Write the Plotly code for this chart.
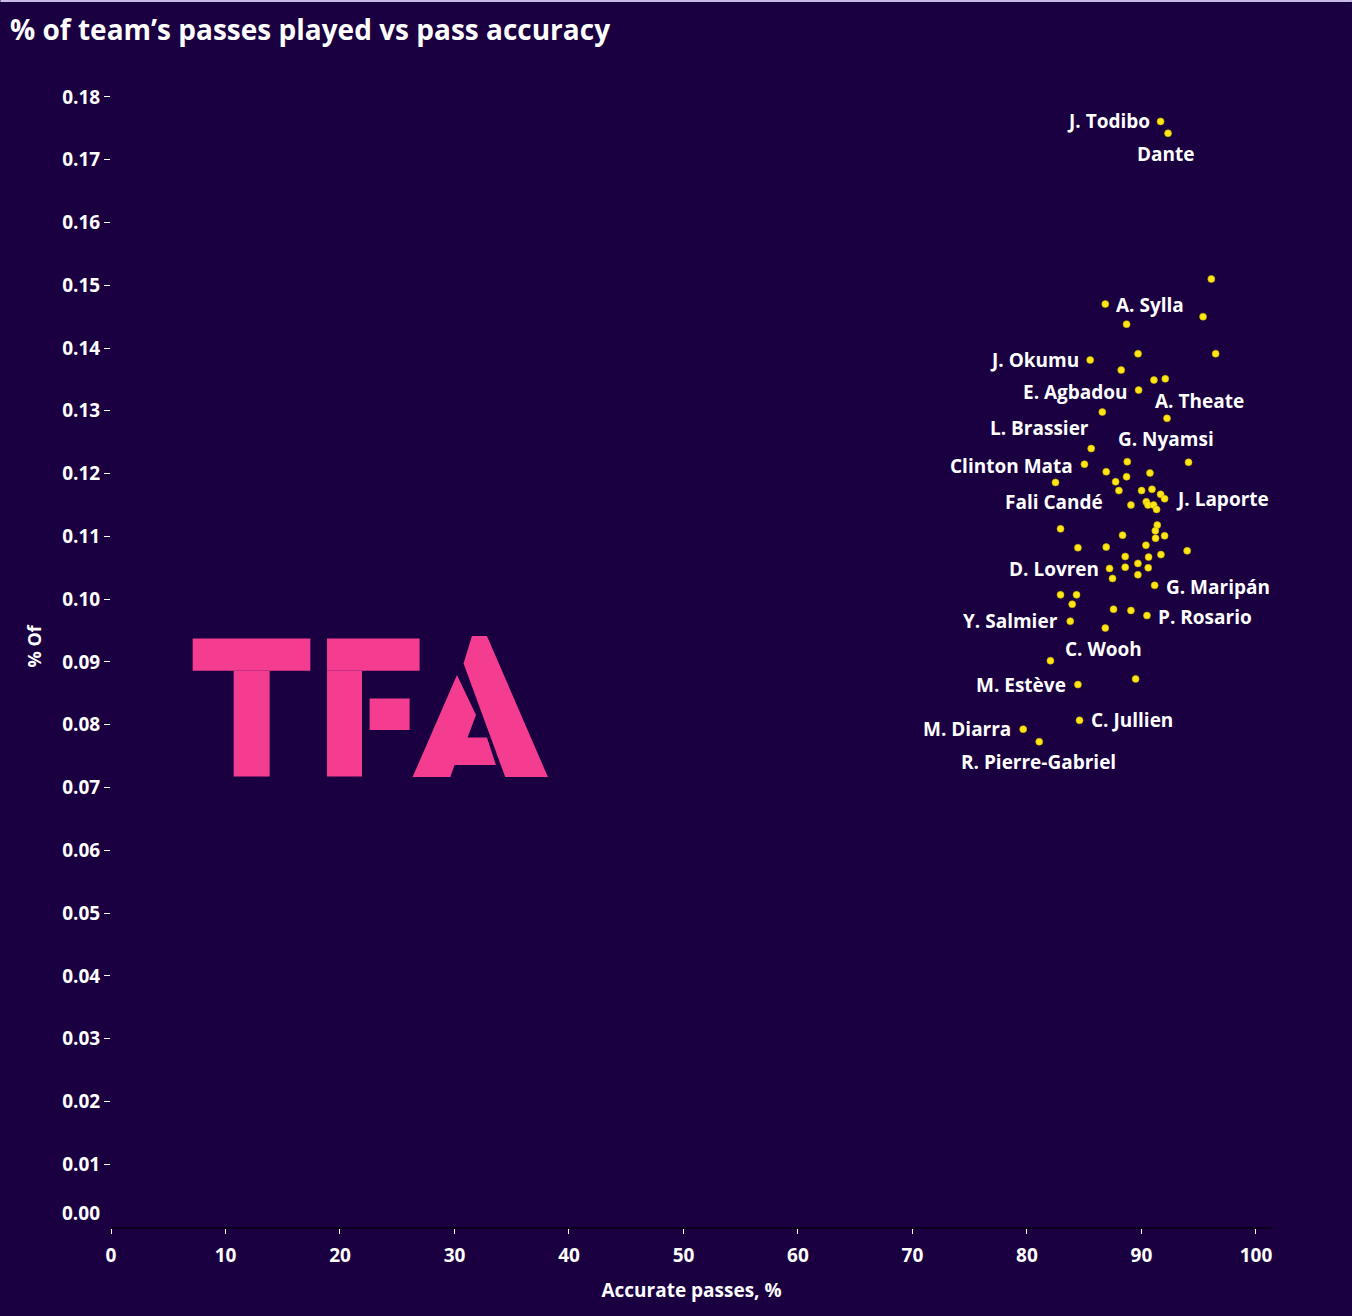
import plotly.graph_objects as go

# ---------------- data ----------------
accurate_pct = [91.67, 92.32, 96.10, 86.84, 95.38, 88.70, 89.70, 96.48, 85.52, 88.23,
                91.09, 92.08, 89.75, 86.58, 92.23, 85.61, 94.11, 88.76, 85.02, 86.92,
                90.74, 88.70, 87.74, 82.49, 88.03, 90.01, 90.92, 91.67, 92.02, 89.08,
                90.42, 90.57, 91.06, 91.32, 82.93, 91.38, 91.21, 92.02, 91.23, 88.35,
                84.45, 86.92, 90.39, 93.99, 91.70, 90.62, 88.58, 89.69, 88.58, 90.59,
                87.21, 87.47, 89.69, 91.15, 82.93, 84.33, 83.95, 87.56, 89.08, 90.48,
                83.78, 86.84, 82.05, 89.49, 84.45, 84.59, 79.67, 81.07]
share_of_passes = [0.1761, 0.1742, 0.1510, 0.1470, 0.1450, 0.1438, 0.1391, 0.1391, 0.1381, 0.1365,
                   0.1349, 0.1351, 0.1333, 0.1298, 0.1288, 0.1240, 0.1218, 0.1219, 0.1215, 0.1203,
                   0.1201, 0.1195, 0.1187, 0.1186, 0.1173, 0.1173, 0.1175, 0.1167, 0.1160, 0.1150,
                   0.1155, 0.1150, 0.1150, 0.1143, 0.1112, 0.1118, 0.1109, 0.1101, 0.1097, 0.1102,
                   0.1082, 0.1083, 0.1086, 0.1077, 0.1071, 0.1067, 0.1068, 0.1057, 0.1051, 0.1050,
                   0.1049, 0.1033, 0.1039, 0.1022, 0.1007, 0.1007, 0.0992, 0.0984, 0.0982, 0.0974,
                   0.0965, 0.0954, 0.0902, 0.0873, 0.0864, 0.0807, 0.0793, 0.0773]
player_names = ["J. Todibo", "Dante", "", "A. Sylla", "", "", "", "", "J. Okumu", "",
                "A. Theate", "", "E. Agbadou", "L. Brassier", "G. Nyamsi", "", "", "", "Clinton Mata", "",
                "", "", "", "Fali Candé", "", "", "", "", "J. Laporte", "",
                "", "", "", "", "", "", "", "", "", "",
                "", "", "", "", "", "", "", "", "", "",
                "D. Lovren", "", "", "G. Maripán", "", "", "", "", "", "P. Rosario",
                "Y. Salmier", "C. Wooh", "", "", "M. Estève", "C. Jullien", "M. Diarra", "R. Pierre-Gabriel"]
x_ticks = [0, 10, 20, 30, 40, 50, 60, 70, 80, 90, 100]
y_ticks = [0.01, 0.02, 0.03, 0.04, 0.05, 0.06, 0.07, 0.08, 0.09, 0.10,
           0.11, 0.12, 0.13, 0.14, 0.15, 0.16, 0.17, 0.18]

# ---------------- style ----------------
BG = "#1a0040"
WHITE = "#ffffff"
YELLOW = "#ffe614"
PINK = "#f43d90"
FONT = "Open Sans"

W, H = 1352, 1316
PL, PR, PT, PB = 110.6, 1272.0, 85.0, 1226.8  # plot area in pixels
X_RANGE = [0, 101.4]
Y_RANGE = [0, 0.1819]

# label placement: name -> (xanchor, xshift, yshift)
label_style = {
    "J. Todibo": ("right", -9, 0),
    "Dante": ("center", -2, -21),
    "A. Sylla": ("left", 9, -1),
    "J. Okumu": ("right", -9, 0),
    "A. Theate": ("left", -1, -21),
    "E. Agbadou": ("right", -9, -2),
    "L. Brassier": ("right", -11, -16),
    "G. Nyamsi": ("center", -1, -21),
    "Clinton Mata": ("right", -9, -2),
    "Fali Candé": ("center", -1, -20),
    "J. Laporte": ("left", 9, 0),
    "D. Lovren": ("right", -9, -1),
    "G. Maripán": ("left", 9, -2),
    "P. Rosario": ("left", 9, -1),
    "Y. Salmier": ("right", -10, 0),
    "C. Wooh": ("center", -2, -21),
    "M. Estève": ("right", -10, 0),
    "C. Jullien": ("left", 9, 0),
    "M. Diarra": ("right", -10, 0),
    "R. Pierre-Gabriel": ("center", -1, -20),
}

fig = go.Figure()
fig.add_trace(go.Scatter(
    x=accurate_pct, y=share_of_passes, mode="markers",
    marker=dict(size=7, color=YELLOW, line=dict(width=0.6, color="#c9b000")),
    text=player_names, hoverinfo="x+y+text", showlegend=False,
))

annotations = []
for xv, yv, name in zip(accurate_pct, share_of_passes, player_names):
    if not name:
        continue
    xa, xs, ys = label_style[name]
    annotations.append(dict(
        x=xv, y=yv, xref="x", yref="y", text=name, showarrow=False,
        xanchor=xa, yanchor="middle", xshift=xs, yshift=ys,
        font=dict(family=FONT, size=19, color=WHITE, weight="bold"),
    ))

# 0.00 label (drawn slightly above the baseline as in the original)
annotations.append(dict(
    x=0, y=0, xref="paper", yref="y", text="0.00", showarrow=False,
    xanchor="right", yanchor="middle", xshift=-9, yshift=14,
    font=dict(family=FONT, size=19, color=WHITE, weight="bold"),
))

# y-axis title
annotations.append(dict(
    x=0, y=0.5, xref="paper", yref="paper", text="% Of", showarrow=False,
    textangle=-90, xanchor="center", yanchor="middle", xshift=-(PL - 34), yshift=10,
    font=dict(family=FONT, size=18, color=WHITE, weight="bold"),
))


def px2paper(px, py):
    return (px - PL) / (PR - PL), (PB - py) / (PB - PT)


def poly(points):
    pts = [px2paper(a, b) for a, b in points]
    d = "M " + " L ".join(f"{a:.5f},{b:.5f}" for a, b in pts) + " Z"
    return dict(type="path", xref="paper", yref="paper", path=d,
                fillcolor=PINK, line=dict(width=0), layer="below")


# TFA logo (decoration), pixel outlines
logo = [
    [(192.3, 638.3), (310.0, 638.3), (310.0, 670.7), (192.3, 670.7)],          # T bar
    [(233.3, 670.7), (269.3, 670.7), (269.3, 776.5), (233.3, 776.5)],          # T stem
    [(326.7, 638.3), (419.3, 638.3), (419.3, 670.7), (326.7, 670.7)],          # F top
    [(326.7, 670.7), (361.7, 670.7), (361.7, 776.5), (326.7, 776.5)],          # F stem
    [(369.3, 698.3), (409.3, 698.3), (409.3, 730.0), (369.3, 730.0)],          # F middle
    [(471.7, 636.0), (486.7, 636.0), (547.7, 777.0), (505.0, 777.0), (463.3, 663.3)],  # A right
    [(412.3, 777.0), (456.7, 675.0), (475.7, 715.0), (467.3, 737.3), (486.7, 737.3),
     (495.7, 765.0), (454.3, 765.0), (450.0, 777.0)],                          # A left
]
shapes = [poly(p) for p in logo]

# thin light strip at the top edge
tx0, ty0 = px2paper(0, 0)
tx1, ty1 = px2paper(W, 2)
shapes.append(dict(type="rect", xref="paper", yref="paper", x0=tx0, x1=tx1, y0=ty1, y1=ty0,
                   fillcolor="#cbb9e8", line=dict(width=0)))

fig.update_layout(
    width=W, height=H,
    paper_bgcolor=BG, plot_bgcolor=BG,
    margin=dict(l=PL, r=W - PR, t=PT, b=H - PB, autoexpand=False),
    title=dict(text="% of team’s passes played vs pass accuracy",
               x=10 / W, xanchor="left", xref="container",
               y=1 - 30 / H, yanchor="middle", yref="container",
               font=dict(family=FONT, size=28, color=WHITE, weight="bold")),
    xaxis=dict(range=X_RANGE, tickvals=x_ticks, ticktext=[str(v) for v in x_ticks],
               showgrid=False, zeroline=False, showline=True, linecolor="#0b001c", linewidth=2,
               ticks="outside", ticklen=5, tickwidth=1, tickcolor=WHITE,
               ticklabelstandoff=5,
               tickfont=dict(family=FONT, size=19, color=WHITE, weight="bold"),
               title=dict(text="Accurate passes, %", standoff=17,
                          font=dict(family=FONT, size=19, color=WHITE, weight="bold"))),
    yaxis=dict(range=Y_RANGE, tickvals=y_ticks, ticktext=[f"{v:.2f}" for v in y_ticks],
               showgrid=False, zeroline=False, showline=False,
               ticks="outside", ticklen=6, tickwidth=1, tickcolor=WHITE,
               tickfont=dict(family=FONT, size=19, color=WHITE, weight="bold")),
    annotations=annotations,
    shapes=shapes,
)

fig.write_html("out.html", config={"displayModeBar": False},
               post_script="document.body.style.margin='0';")
